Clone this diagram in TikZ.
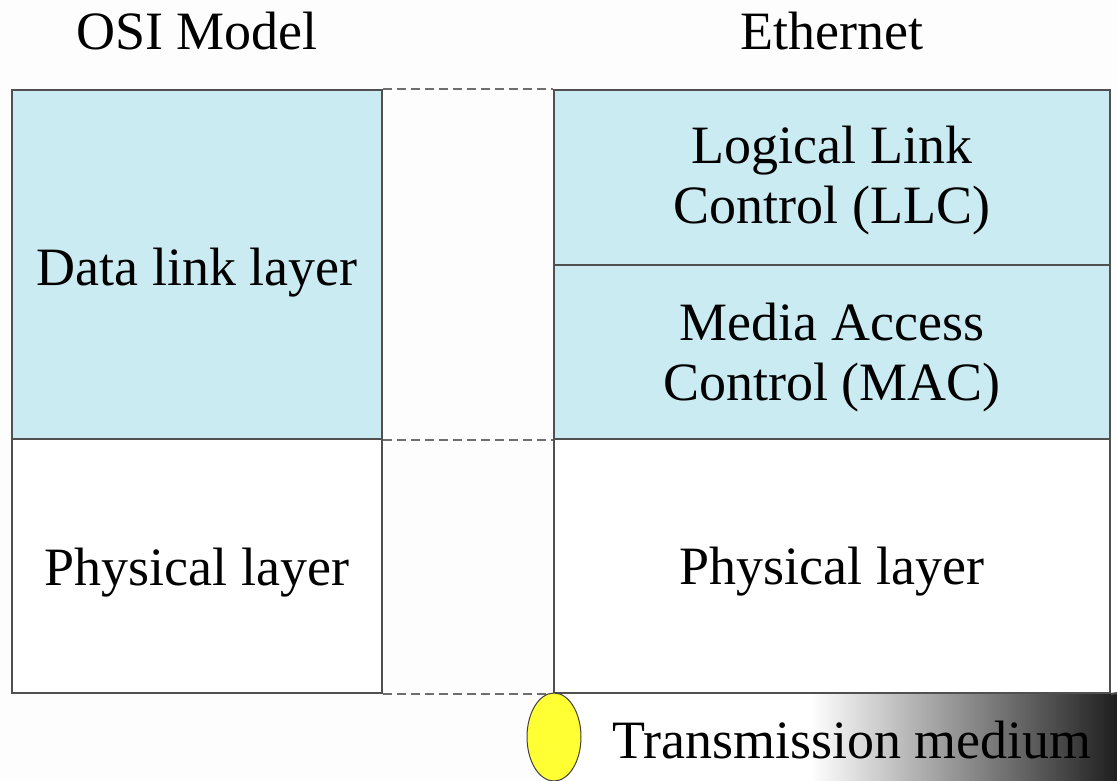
\documentclass[tikz,border=0pt]{standalone}
\usepackage{fontspec}
\setmainfont{Liberation Serif}
\usetikzlibrary{calc,shapes.geometric}
\definecolor{pagebg}{RGB}{253,253,253}
\definecolor{layerblue}{RGB}{203,235,242}
\definecolor{edgegray}{RGB}{80,80,80}
\definecolor{dashgray}{RGB}{110,110,110}
\definecolor{cablefill}{RGB}{255,255,51}
\tikzset{
  layerbox/.style={draw=edgegray, line width=2pt, inner sep=0pt, minimum width=#1},
  bluebox/.style={layerbox=#1, fill=layerblue},
  whitebox/.style={layerbox=#1, fill=white},
  guide/.style={draw=dashgray, line width=2.2pt, dash pattern=on 9pt off 5pt},
  caption/.style={anchor=base, inner sep=0pt, font=\fontsize{54}{60}\selectfont},
}
\begin{document}
\begin{tikzpicture}[x=1pt, y=-1pt]
  \useasboundingbox[fill=pagebg] (0,0) rectangle (1117,780);

  % column headings
  \node[caption] (osihead) at (197,49) {OSI Model};
  \node[caption] (ethhead) at (832,49) {Ethernet};

  % OSI model column
  \node[bluebox=370pt, minimum height=349pt] (dll) at (197,264.5) {};
  \node[whitebox=370pt, minimum height=254pt] (phyl) at (197,566) {};

  % transmission medium strip with darkening gradient
  \fill[white] (554,693) rectangle (1117,780);
  \shade[left color=white, middle color=black!25, right color=black!88]
    (810,693) rectangle (1117,780);

  % Ethernet column
  \node[bluebox=556pt, minimum height=175pt] (llc) at (832,177.5) {};
  \node[bluebox=556pt, minimum height=174pt] (mac) at (832,352) {};
  \node[whitebox=556pt, minimum height=254pt] (phyr) at (832,566) {};
  \draw[edgegray, line width=2pt] (phyr.south east) -- (1117,693);

  % dashed correspondence lines
  \draw[guide] (dll.north east) -- (llc.north west);
  \draw[guide] (dll.south east) -- (mac.south west);
  \draw[guide] (phyl.south east) -- (phyr.south west);

  % layer names (multi-line nodes sit on the baseline of their last line)
  \node[caption] (dlltext) at (197,285) {Data link layer};
  \node[caption] (phyltext) at (197,585) {Physical layer};
  \node[caption, align=center] (llctext) at (832,223) {Logical Link\\Control (LLC)};
  \node[caption, align=center] (mactext) at (832,400) {Media Access\\Control (MAC)};
  \node[caption] (phyrtext) at (832,584) {Physical layer};

  % cable end and medium label
  \node[draw=black!75, line width=1pt, fill=cablefill, ellipse, minimum width=54pt,
        minimum height=88pt, inner sep=0pt] (cable) at (554,737) {};
  \node[caption, anchor=base west] (medium) at (612,758) {Transmission medium};
\end{tikzpicture}
\end{document}
